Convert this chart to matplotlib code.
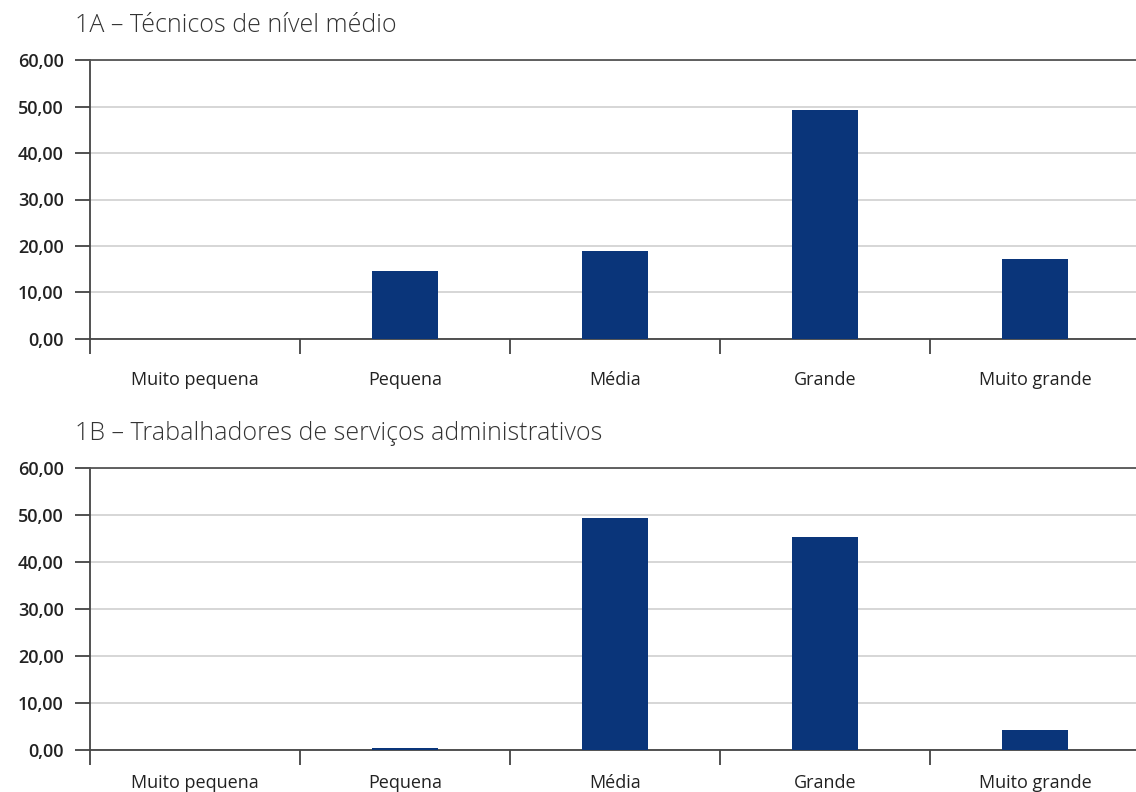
# Distribuição por porte: técnicos de nível médio e serviços administrativos

import matplotlib.pyplot as plt
import numpy as np
from matplotlib.ticker import FixedLocator, FuncFormatter

plt.rcParams['font.family'] = ['Open Sans', 'DejaVu Sans']

categorias = ['Muito pequena', 'Pequena', 'Média', 'Grande', 'Muito grande']
tecnicos = [0.0, 14.6, 18.9, 49.2, 17.2]
administrativos = [0.0, 0.4, 49.4, 45.3, 4.3]
titulos = ['1A – Técnicos de nível médio',
           '1B – Trabalhadores de serviços administrativos']

cor_barra = '#0a357a'
x = np.arange(len(categorias))

fig = plt.figure(figsize=(11.36, 7.92), dpi=100)
ax1 = fig.add_axes([90/1136, 1 - 339/792, 1050/1136, 279/792])
ax2 = fig.add_axes([90/1136, 1 - 750/792, 1050/1136, 282/792])

for ax, valores, pad_x in [(ax1, tecnicos, 23), (ax2, administrativos, 17)]:
    ax.bar(x, valores, width=0.315, color=cor_barra, zorder=3)
    ax.set_xlim(-0.5, len(categorias) - 0.5)
    ax.set_ylim(0, 60)
    ax.set_yticks(np.arange(0, 61, 10))
    ax.yaxis.set_major_formatter(FuncFormatter(lambda v, p: f'{v:.2f}'.replace('.', ',')))
    ax.grid(axis='y', color='#cfcfcf', linewidth=1.2, zorder=0)
    ax.set_axisbelow(True)

    ax.set_xticks(x)
    ax.set_xticklabels(categorias, fontsize=13, color='#222222')
    ax.tick_params(axis='x', which='major', length=0, pad=pad_x)
    ax.xaxis.set_minor_locator(FixedLocator(np.arange(-0.5, len(categorias), 1.0)))
    ax.tick_params(axis='x', which='minor', length=11, width=1.2, color='#333333')
    ax.tick_params(axis='y', length=11, width=1.2, color='#333333', labelsize=13,
                   labelcolor='#222222', pad=8)
    for lab in ax.get_yticklabels():
        lab.set_fontweight('semibold')

    ax.spines['right'].set_visible(False)
    ax.spines['left'].set_color('#444444')
    ax.spines['bottom'].set_color('#444444')
    ax.spines['top'].set_color('#555555')
    for s in ['left', 'bottom', 'top']:
        ax.spines[s].set_linewidth(1.3)

fig.text(75/1136, 1 - 25/792, titulos[0], fontsize=18, fontweight='light',
         color='#333333', va='center', ha='left')
fig.text(75/1136, 1 - 434/792, titulos[1], fontsize=18, fontweight='light',
         color='#333333', va='center', ha='left')

fig.savefig('out.png', dpi=100)
